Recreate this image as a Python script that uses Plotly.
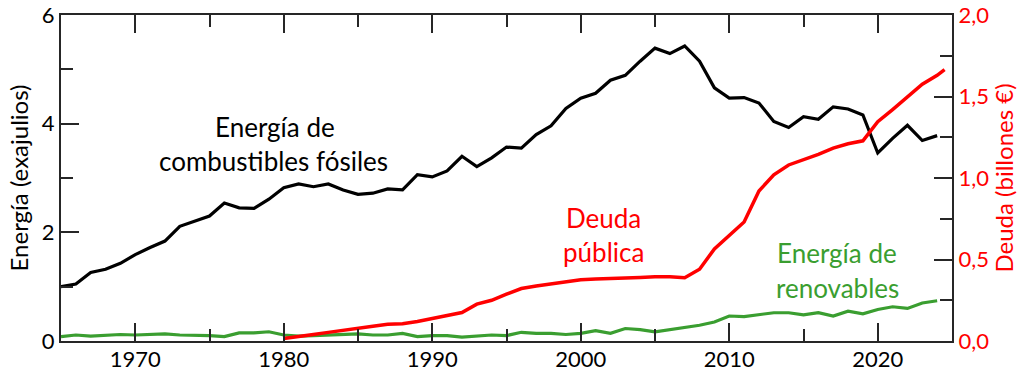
import plotly.graph_objects as go

years = list(range(1965, 2025))
fossil = [1.00, 1.05, 1.26, 1.32, 1.43, 1.59, 1.72, 1.84, 2.11, 2.20,
          2.30, 2.54, 2.45, 2.44, 2.61, 2.82, 2.89, 2.84, 2.89, 2.78,
          2.70, 2.72, 2.80, 2.78, 3.06, 3.02, 3.13, 3.40, 3.21, 3.37,
          3.57, 3.55, 3.80, 3.96, 4.28, 4.47, 4.56, 4.80, 4.89, 5.15,
          5.39, 5.29, 5.43, 5.15, 4.66, 4.47, 4.48, 4.38, 4.04, 3.93,
          4.13, 4.08, 4.31, 4.27, 4.16, 3.46, 3.73, 3.97, 3.69, 3.78]
renew = [0.08, 0.11, 0.09, 0.10, 0.12, 0.11, 0.12, 0.13, 0.11, 0.11,
         0.10, 0.08, 0.15, 0.15, 0.17, 0.11, 0.09, 0.10, 0.11, 0.12,
         0.13, 0.11, 0.11, 0.14, 0.08, 0.10, 0.10, 0.07, 0.09, 0.11,
         0.10, 0.16, 0.14, 0.14, 0.12, 0.14, 0.19, 0.14, 0.23, 0.21,
         0.17, 0.21, 0.26, 0.29, 0.35, 0.46, 0.45, 0.49, 0.52, 0.52,
         0.48, 0.52, 0.46, 0.55, 0.50, 0.58, 0.63, 0.60, 0.70, 0.74]
debt_years = list(range(1980, 2025)) + [2024.5]
debt = [0.016, 0.026, 0.040, 0.053, 0.067, 0.081, 0.091, 0.102, 0.106, 0.120,
        0.138, 0.153, 0.175, 0.226, 0.250, 0.287, 0.322, 0.338, 0.350, 0.364,
        0.376, 0.380, 0.382, 0.386, 0.390, 0.394, 0.394, 0.388, 0.440, 0.565,
        0.645, 0.730, 0.920, 1.020, 1.080, 1.110, 1.145, 1.183, 1.210, 1.228,
        1.345, 1.420, 1.500, 1.575, 1.630, 1.665]

x_ticks = [1970, 1980, 1990, 2000, 2010, 2020]
y_ticks = [0, 2, 4, 6]
y2_ticks = [0.0, 0.5, 1.0, 1.5, 2.0]
y2_labels = ["0,0", "0,5", "1,0", "1,5", "2,0"]

FONT = "Lato"
BLACK = "#000000"
RED = "#ff0000"
GREEN = "#3a9e30"
AX = "#262626"

fig = go.Figure()
fig.add_trace(go.Scatter(x=years, y=renew, mode="lines",
                         line=dict(color=GREEN, width=3.2), yaxis="y"))
fig.add_trace(go.Scatter(x=debt_years, y=debt, mode="lines",
                         line=dict(color=RED, width=3.5), yaxis="y2"))
fig.add_trace(go.Scatter(x=years, y=fossil, mode="lines",
                         line=dict(color=BLACK, width=3.2), yaxis="y"))

labels = [
    ("Energía de", 275, 127, BLACK),
    ("combustibles fósiles", 273, 161, BLACK),
    ("Deuda", 603, 218, RED),
    ("pública", 603, 252, RED),
    ("Energía de", 837, 253, GREEN),
    ("renovables", 837, 288, GREEN),
]
L, R, T, B = 61, 72, 15, 33
W, H = 1024, 374
pw, ph = W - L - R, H - T - B
annotations = []
for text, px, py, col in labels:
    annotations.append(dict(
        text=text, xref="paper", yref="paper",
        x=(px - L) / pw, y=1 - (py - T) / ph,
        xanchor="center", yanchor="middle", showarrow=False,
        font=dict(family=FONT, size=26, color=col)))

fig.update_layout(
    width=W, height=H,
    margin=dict(l=L, r=R, t=T, b=B, autoexpand=False),
    paper_bgcolor="white", plot_bgcolor="white",
    showlegend=False,
    font=dict(family=FONT, size=21, color=BLACK),
    annotations=annotations,
    xaxis=dict(
        range=[1965, 2025], tickmode="array", tickvals=x_ticks,
        ticktext=[str(v) for v in x_ticks], ticklabeloverflow="allow",
        ticklabelstandoff=-2,
        ticks="inside", ticklen=18, tickwidth=1.5, tickcolor=AX,
        minor=dict(dtick=5, tick0=1965, ticks="inside", ticklen=12,
                   tickwidth=1.5, tickcolor=AX, showgrid=False),
        showline=True, linecolor=AX, linewidth=2, mirror="ticks",
        showgrid=False, zeroline=False,
        tickfont=dict(family=FONT, size=22, color=BLACK),
    ),
    yaxis=dict(
        range=[0, 6.0001], tickmode="array", tickvals=y_ticks,
        ticktext=[str(v) for v in y_ticks], ticklabeloverflow="allow",
        ticks="inside", ticklen=18, tickwidth=1.5, tickcolor=AX,
        minor=dict(dtick=1, tick0=0, ticks="inside", ticklen=12,
                   tickwidth=1.5, tickcolor=AX, showgrid=False),
        showline=True, linecolor=AX, linewidth=2,
        showgrid=False, zeroline=False,
        tickfont=dict(family=FONT, size=22, color=BLACK),
        title=dict(text="Energía (exajulios)", standoff=6,
                   font=dict(family=FONT, size=24, color=BLACK)),
    ),
    yaxis2=dict(
        range=[0, 2.00004], tickmode="array", tickvals=y2_ticks,
        ticktext=y2_labels, overlaying="y", ticklabeloverflow="allow",
        side="right", ticks="inside", ticklen=18, tickwidth=1.5,
        tickcolor=AX,
        minor=dict(dtick=0.25, tick0=0, ticks="inside", ticklen=12,
                   tickwidth=1.5, tickcolor=AX, showgrid=False),
        showline=True, linecolor=AX, linewidth=2,
        showgrid=False, zeroline=False,
        tickfont=dict(family=FONT, size=22, color=RED),
        title=dict(text="Deuda (billones €)", standoff=6,
                   font=dict(family=FONT, size=24, color=RED)),
    ),
)

fig.write_html(
    "out.html",
    config={"displayModeBar": False},
    post_script="document.body.style.margin='0';"
                "document.body.style.overflow='hidden';",
)
